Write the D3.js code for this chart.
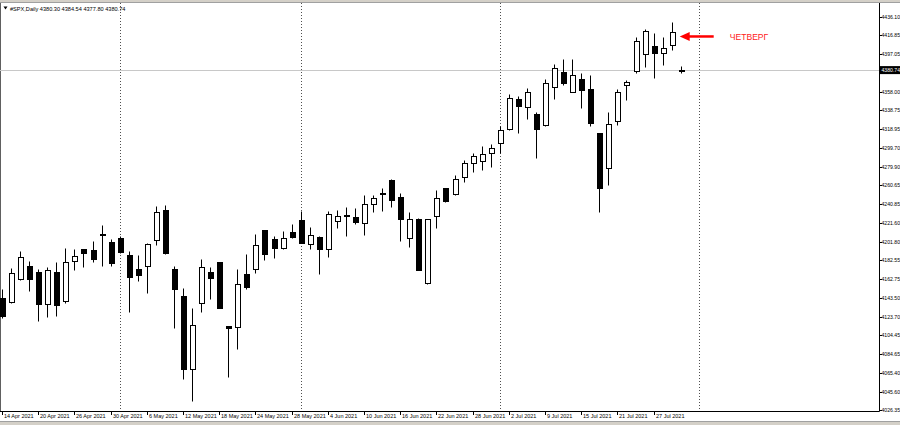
<!DOCTYPE html>
<html><head><meta charset="utf-8">
<script src="https://cdn.jsdelivr.net/npm/d3@7"></script>
<style>
html,body{margin:0;padding:0;background:#fff;overflow:hidden;}
svg{display:block;}
text{font-family:"Liberation Sans",Arial,sans-serif;}
</style></head><body>
<svg id="c" width="900" height="425"></svg>
<script>
const symbolTitle = "#SPX,Daily";
const dates = ["2021-04-14","2021-04-15","2021-04-16","2021-04-19","2021-04-20","2021-04-21","2021-04-22","2021-04-23","2021-04-26","2021-04-27",
"2021-04-28","2021-04-29","2021-04-30","2021-05-03","2021-05-04","2021-05-05","2021-05-06","2021-05-07","2021-05-10","2021-05-11",
"2021-05-12","2021-05-13","2021-05-14","2021-05-17","2021-05-18","2021-05-19","2021-05-20","2021-05-21","2021-05-24","2021-05-25",
"2021-05-26","2021-05-27","2021-05-28","2021-06-01","2021-06-02","2021-06-03","2021-06-04","2021-06-07","2021-06-08","2021-06-09",
"2021-06-10","2021-06-11","2021-06-14","2021-06-15","2021-06-16","2021-06-17","2021-06-18","2021-06-21","2021-06-22","2021-06-23",
"2021-06-24","2021-06-25","2021-06-28","2021-06-29","2021-06-30","2021-07-01","2021-07-02","2021-07-06","2021-07-07","2021-07-08",
"2021-07-09","2021-07-12","2021-07-13","2021-07-14","2021-07-15","2021-07-16","2021-07-19","2021-07-20","2021-07-21","2021-07-22",
"2021-07-23","2021-07-26","2021-07-27","2021-07-28","2021-07-29","2021-07-30"];
const open = [4143.1,4138.6,4162.9,4176.8,4169.9,4136.8,4170.2,4139.6,4181.4,4193.9,
4193.1,4209.0,4201.5,4205.6,4187.9,4173.3,4176.8,4203.6,4234.8,4173.6,
4145.2,4068.7,4138.2,4170.5,4180.3,4113.6,4112.5,4167.8,4173.6,4213.7,
4204.3,4194.9,4211.6,4224.1,4199.1,4207.0,4193.9,4223.4,4229.1,4227.2,
4221.6,4240.8,4252.0,4266.4,4248.7,4205.3,4225.1,4158.4,4228.3,4257.5,
4251.2,4268.9,4283.5,4285.9,4294.0,4305.0,4319.3,4350.3,4342.6,4335.0,
4323.5,4363.4,4379.1,4357.9,4371.5,4361.3,4314.8,4278.6,4328.0,4364.7,
4379.8,4397.5,4405.9,4398.9,4406.9,4380.30];
const high = [4152.5,4174.7,4192.1,4182.0,4173.3,4175.7,4180.6,4194.9,4194.2,4194.5,
4202.5,4219.2,4204.6,4207.7,4192.4,4187.9,4200.0,4239.0,4240.1,4176.1,
4153.2,4132.3,4183.4,4175.7,4180.6,4114.0,4173.6,4189.0,4209.5,4214.0,
4207.7,4213.3,4219.9,4234.1,4217.4,4207.3,4234.1,4234.5,4238.3,4236.6,
4250.5,4250.5,4257.5,4267.0,4252.9,4232.4,4226.8,4226.0,4255.7,4258.0,
4271.3,4287.0,4294.0,4301.6,4303.2,4322.4,4355.8,4354.0,4361.8,4337.4,
4371.1,4387.1,4392.0,4392.0,4378.0,4375.6,4315.2,4337.4,4361.0,4370.4,
4415.6,4423.3,4419.7,4414.9,4430.6,4384.54];
const low = [4122.2,4137.9,4162.4,4150.7,4119.1,4123.0,4124.0,4137.6,4172.3,4175.7,
4180.9,4176.8,4176.8,4189.7,4128.8,4161.1,4148.0,4198.3,4189.0,4111.5,
4058.3,4036.0,4128.5,4142.4,4132.3,4061.0,4089.6,4152.2,4169.5,4182.7,
4184.5,4193.9,4206.0,4200.5,4193.9,4167.8,4186.1,4216.1,4207.7,4220.2,
4208.8,4233.1,4234.1,4238.3,4202.8,4196.0,4172.0,4157.7,4215.8,4242.9,
4250.5,4263.7,4274.2,4276.6,4280.0,4294.0,4318.3,4314.8,4329.4,4288.8,
4322.4,4350.3,4365.2,4357.4,4340.9,4322.4,4232.4,4260.9,4323.5,4349.6,
4377.4,4383.7,4372.8,4386.1,4401.7,4377.80];
const close = [4124.3,4168.8,4186.1,4162.6,4136.8,4172.6,4135.8,4180.9,4186.6,4190.3,
4184.1,4209.5,4179.9,4190.7,4165.3,4167.1,4199.4,4232.4,4189.7,4152.5,
4068.7,4114.6,4175.1,4164.2,4133.0,4112.1,4157.4,4154.6,4198.0,4188.7,
4194.9,4205.3,4206.4,4200.7,4208.5,4194.2,4230.4,4228.3,4229.3,4222.6,
4240.8,4247.0,4252.3,4245.6,4225.5,4225.1,4172.6,4225.5,4247.0,4243.9,
4266.9,4283.5,4291.2,4292.9,4299.2,4318.3,4351.3,4343.6,4357.6,4319.0,
4367.6,4382.6,4367.0,4375.6,4360.0,4325.9,4258.1,4324.5,4358.2,4368.5,
4411.1,4421.8,4398.3,4403.5,4420.2,4380.74];
const priceTicks = [4436.10,4416.85,4397.05,4358.00,4338.75,4318.95,4299.70,4279.90,4260.65,4240.85,4221.60,
4201.80,4182.55,4162.75,4143.50,4123.70,4104.45,4084.65,4065.40,4045.60,4026.35];
const dateTickLabels = ["14 Apr 2021","20 Apr 2021","26 Apr 2021","30 Apr 2021","6 May 2021","12 May 2021","18 May 2021",
"24 May 2021","28 May 2021","4 Jun 2021","10 Jun 2021","16 Jun 2021","22 Jun 2021","28 Jun 2021","2 Jul 2021",
"9 Jul 2021","15 Jul 2021","21 Jul 2021","27 Jul 2021"];
const separatorBars = [13, 33, 55, 77];
const annotation = {bar: 74, price: 4415.8, text: "ЧЕТВЕРГ"};

const W = 900, H = 425;
const plotL = 0, plotR = 879, plotT = 3, plotB = 411;
const svg = d3.select("#c");
const fmt = d3.format(".2f");
const parse = d3.timeParse("%Y-%m-%d");
const lab = d3.timeFormat("%-d %b %Y");

const data = dates.map((d, i) => ({i, date: parse(d), o: open[i], h: high[i], l: low[i], c: close[i]}));

const x = d3.scaleLinear().domain([0, dates.length - 1]).range([2, 680.75]);
const y = d3.scaleLinear().domain([4026.35, 4436.10]).range([410, 17]);
const px = i => Math.round(x(i));
const py = v => Math.round(y(v)) + 0.5;

svg.append("rect").attr("x",0).attr("y",0).attr("width",W).attr("height",H).attr("fill","#fff");
svg.append("rect").attr("x",0).attr("y",0).attr("width",W).attr("height",2).attr("fill","#d4d0c8");
svg.append("line").attr("x1",0).attr("x2",W).attr("y1",2.5).attr("y2",2.5).attr("stroke","#a0a0a0");
svg.append("rect").attr("x",0).attr("y",421).attr("width",W).attr("height",4).attr("fill","#d4d0c8");
svg.append("line").attr("x1",0).attr("x2",W).attr("y1",421.5).attr("y2",421.5).attr("stroke","#a0a0a0");

svg.append("line").attr("x1",0.5).attr("x2",0.5).attr("y1",plotT).attr("y2",plotB).attr("stroke","#606060");

svg.append("g").selectAll("line").data(separatorBars).join("line")
  .attr("x1", d => px(d) + 0.5).attr("x2", d => px(d) + 0.5)
  .attr("y1", plotT).attr("y2", plotB)
  .attr("stroke", "#505050").attr("stroke-dasharray", "1,2");

svg.append("line").attr("x1", plotL).attr("x2", plotR).attr("y1", py(close[close.length-1])).attr("y2", py(close[close.length-1]))
  .attr("stroke", "#c8c8c8");

const cg = svg.append("g");
cg.selectAll("line.w").data(data).join("line").attr("class","w")
  .attr("x1", d => px(d.i) + 0.5).attr("x2", d => px(d.i) + 0.5)
  .attr("y1", d => py(d.h)).attr("y2", d => py(d.l))
  .attr("stroke", "#000").attr("stroke-width", 1);
cg.selectAll("rect.b").data(data).join("rect").attr("class","b")
  .attr("x", d => px(d.i) - 1.5).attr("width", 5)
  .attr("y", d => py(Math.max(d.o, d.c)))
  .attr("height", d => Math.max(py(Math.min(d.o, d.c)) - py(Math.max(d.o, d.c)), 0.01))
  .attr("fill", d => d.c >= d.o ? "#fff" : "#000")
  .attr("stroke", "#000").attr("stroke-width", 1);

svg.append("line").attr("x1", plotR + 0.5).attr("x2", plotR + 0.5).attr("y1", plotT).attr("y2", plotB + 0.5).attr("stroke", "#000");
svg.append("line").attr("x1", 0).attr("x2", plotR + 0.5).attr("y1", plotB + 0.5).attr("y2", plotB + 0.5).attr("stroke", "#000");

const pa = svg.append("g");
pa.selectAll("line").data(priceTicks).join("line")
  .attr("x1", plotR + 1).attr("x2", plotR + 3).attr("y1", d => py(d)).attr("y2", d => py(d)).attr("stroke", "#000");
pa.selectAll("text").data(priceTicks).join("text")
  .attr("x", plotR + 2.5).attr("y", d => y(d) + 2)
  .attr("font-size", 5.15).attr("fill", "#000").text(d => fmt(d));

const bid = close[close.length-1];
svg.append("rect").attr("x", plotR + 1).attr("y", y(bid) - 4).attr("width", W - plotR).attr("height", 8).attr("fill", "#000");
svg.append("text").attr("x", plotR + 2.5).attr("y", y(bid) + 2).attr("font-size", 5.15).attr("fill", "#fff").text(fmt(bid));

const labelled = data.filter(d => dateTickLabels.includes(lab(d.date)));
const da = svg.append("g");
da.selectAll("line").data(labelled).join("line")
  .attr("x1", d => px(d.i) + 0.5).attr("x2", d => px(d.i) + 0.5).attr("y1", plotB + 1).attr("y2", plotB + 4).attr("stroke", "#000");
da.selectAll("text").data(labelled).join("text")
  .attr("x", d => px(d.i) + 2).attr("y", plotB + 6.8)
  .attr("font-size", 5.5).attr("fill", "#000").text(d => lab(d.date));

const last = data[data.length - 1];
svg.append("path").attr("d", "M3.5,6.5 L7.5,6.5 L5.5,9.5 Z").attr("fill", "#000");
svg.append("text").attr("x", 10).attr("y", 10.5).attr("font-size", 5.6).attr("fill", "#000")
  .text(`${symbolTitle}  ${fmt(last.o)} ${fmt(last.h)} ${fmt(last.l)} ${fmt(last.c)}`);

const ax = x(annotation.bar), ay = y(annotation.price);
svg.append("line").attr("x1", ax + 15).attr("x2", ax + 42).attr("y1", ay).attr("y2", ay)
  .attr("stroke", "#ff0000").attr("stroke-width", 2.5);
svg.append("path").attr("d", `M${ax + 8},${ay} L${ax + 18},${ay - 4.5} L${ax + 18},${ay + 4.5} Z`).attr("fill", "#ff0000");
svg.append("text").attr("x", ax + 58).attr("y", ay + 3.2).attr("font-size", 8.6).attr("fill", "#ff2020").text(annotation.text);
</script>
</body></html>
